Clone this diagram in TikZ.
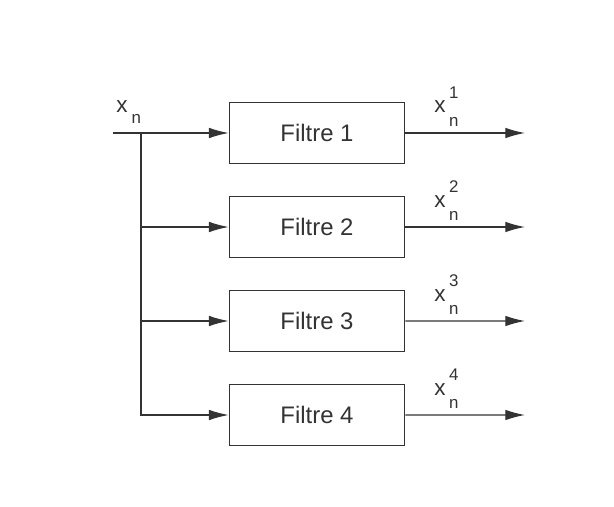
\documentclass[tikz,border=0pt]{standalone}
\usepackage{fontspec}
\setmainfont{Liberation Sans}
\usepackage{xcolor}
\usetikzlibrary{arrows.meta, positioning}
\definecolor{trait}{HTML}{333333}
\tikzstyle{filtre} = [rectangle, minimum width=4.375cm, minimum height=1.525cm, text centered, draw=trait, line width=1.2pt, text=trait, font=\fontsize{17}{20}\selectfont]
\tikzstyle{arrow} = [draw=trait, line width=0.9pt, -{Latex[length=14pt,width=7.5pt]}]
\tikzstyle{signal} = [anchor=base west, inner sep=0pt, text=trait, font=\fontsize{16}{18}\selectfont]
\newcommand{\petit}[1]{{\fontsize{12}{12}\selectfont #1}}
\newcommand{\xsortie}[1]{x\kern2.5pt\raisebox{1.2ex}{\rlap{\petit{#1}}}\raisebox{-1.1ex}{\petit{n}}}

\begin{document}
\begin{tikzpicture}[node distance=2.35cm]
    \useasboundingbox (0,0) rectangle (15.35,-12.675);
    \node (f1) [filtre] at (7.925,-3.325) {Filtre 1};
    \node (f2) [filtre, below of=f1] {Filtre 2};
    \node (f3) [filtre, below of=f2] {Filtre 3};
    \node (f4) [filtre, below of=f3] {Filtre 4};

    \coordinate (in) at (2.825,-3.325);
    \coordinate (split) at (3.525,-3.325);
    \node (xn) [signal] at (2.9,-2.825) {x\kern3pt\raisebox{-0.9ex}{\petit{n}}};

    \coordinate (o1) at (13.125,-3.325);
    \coordinate (o2) at (13.125,-5.675);
    \coordinate (o3) at (13.125,-8.025);
    \coordinate (o4) at (13.125,-10.375);
    \node (x1) [signal] at (10.85,-2.825) {\xsortie{1}};
    \node (x2) [signal, below of=x1] {\xsortie{2}};
    \node (x3) [signal, below of=x2] {\xsortie{3}};
    \node (x4) [signal, below of=x3] {\xsortie{4}};

    \draw [arrow] (in) -- (f1);
    \draw [arrow] (split) |- (f4);
    \draw [arrow] (split |- f2) -- (f2);
    \draw [arrow] (split |- f3) -- (f3);
    \draw [arrow] (f1) -- (o1);
    \draw [arrow] (f2) -- (o2);
    \draw [arrow] (f3) -- (o3);
    \draw [arrow] (f4) -- (o4);
\end{tikzpicture}
\end{document}
